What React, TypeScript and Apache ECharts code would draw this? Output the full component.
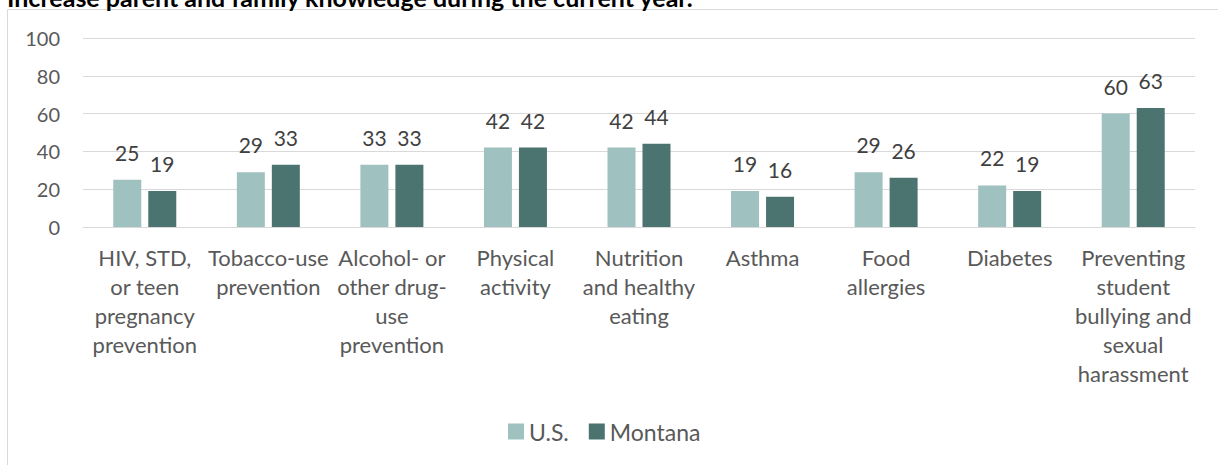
import React, { useEffect, useRef } from "react";
import * as echarts from "echarts";

const categories = [
  "HIV, STD,\nor teen\npregnancy\nprevention",
  "Tobacco-use\nprevention",
  "Alcohol- or\nother drug-\nuse\nprevention",
  "Physical\nactivity",
  "Nutrition\nand healthy\neating",
  "Asthma",
  "Food\nallergies",
  "Diabetes",
  "Preventing\nstudent\nbullying and\nsexual\nharassment",
];
const usValues = [25, 29, 33, 42, 42, 19, 29, 22, 60];
const montanaValues = [19, 33, 33, 42, 44, 16, 26, 19, 63];
const seriesNames = ["U.S.", "Montana"];
const yTicks = { min: 0, max: 100, interval: 20 };
const titleText = "Increase parent and family knowledge during the current year.";

const FONT = "Lato, 'Open Sans', sans-serif";

export default function App() {
  const ref = useRef<HTMLDivElement>(null);
  useEffect(() => {
    if (!ref.current) return;
    const chart = echarts.init(ref.current, undefined, { renderer: "svg" });
    const labelStyle = {
      show: true,
      position: "top",
      distance: 17,
      fontSize: 21,
      color: "#404040",
      fontFamily: FONT,
    };
    chart.setOption({
      animation: false,
      backgroundColor: "#ffffff",
      textStyle: { fontFamily: FONT },
      graphic: [
        {
          type: "rect",
          shape: { x: 7.5, y: 9.5, width: 1400, height: 700 },
          style: { fill: "none", stroke: "#d9d9d9", lineWidth: 1 },
          silent: true,
        },
        {
          type: "text",
          x: 7,
          y: 9,
          style: {
            text: titleText,
            font: `bold 25px ${FONT}`,
            fill: "#000000",
            verticalAlign: "bottom",
            align: "left",
          },
          silent: true,
        },
      ],
      grid: { left: 83, right: 23, top: 38, bottom: 238, containLabel: false },
      legend: {
        data: seriesNames,
        left: 503,
        top: 415,
        icon: "rect",
        itemWidth: 16,
        itemHeight: 16,
        itemGap: 20,
        textStyle: { fontSize: 23, color: "#595959", fontFamily: FONT },
      },
      xAxis: {
        type: "category",
        data: categories,
        axisLine: { lineStyle: { color: "#d9d9d9", width: 1 } },
        axisTick: { show: false },
        axisLabel: {
          interval: 0,
          fontSize: 22,
          lineHeight: 29,
          margin: 16,
          color: "#595959",
          fontFamily: FONT,
        },
      },
      yAxis: {
        type: "value",
        min: yTicks.min,
        max: yTicks.max,
        interval: yTicks.interval,
        axisLine: { show: false },
        axisTick: { show: false },
        axisLabel: { fontSize: 20, color: "#595959", margin: 23, fontFamily: FONT },
        splitLine: { lineStyle: { color: "#d9d9d9", width: 1 } },
      },
      series: [
        {
          name: seriesNames[0],
          type: "bar",
          data: usValues,
          barWidth: 28,
          barGap: "25%",
          itemStyle: { color: "#9fc1bf" },
          label: labelStyle,
        },
        {
          name: seriesNames[1],
          type: "bar",
          data: montanaValues,
          barWidth: 28,
          barGap: "25%",
          itemStyle: { color: "#4b7471" },
          label: labelStyle,
        },
      ],
    });
    return () => chart.dispose();
  }, []);
  return (
    <div
      ref={ref}
      style={{ position: "fixed", left: 0, top: 0, width: 1218, height: 465 }}
    />
  );
}
